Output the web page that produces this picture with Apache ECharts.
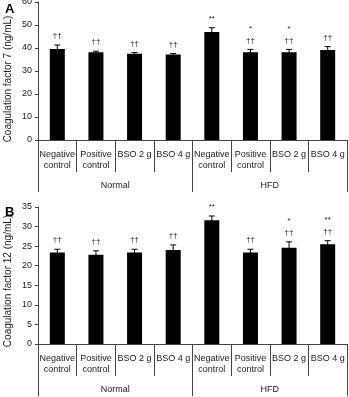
<!DOCTYPE html>
<html>
<head>
<meta charset="utf-8">
<script src="https://cdn.jsdelivr.net/npm/echarts@6/dist/echarts.min.js"></script>
<style>
  html, body { margin: 0; padding: 0; background: #fff; }
  #main { width: 349px; height: 397px; }
</style>
</head>
<body>
<div id="main"></div>
<script>
// categories
const categories = ['Negative\ncontrol', 'Positive\ncontrol', 'BSO 2 g', 'BSO 4 g',
                    'Negative\ncontrol', 'Positive\ncontrol', 'BSO 2 g', 'BSO 4 g'];
const groups = ['Normal', 'HFD'];

// panel A - coagulation factor 7
const factor7 = [39.6, 38.1, 37.5, 37.2, 47.0, 38.1, 38.1, 39.1];
const factor7Err = [1.7, 0.5, 0.5, 0.4, 1.8, 1.3, 1.3, 1.5];
const factor7Marks = ['††', '††', '††', '††', '**', '*\n††', '*\n††', '††'];

// panel B - coagulation factor 12
const factor12 = [23.4, 22.8, 23.4, 24.0, 31.6, 23.4, 24.6, 25.5];
const factor12Err = [0.8, 1.0, 0.8, 1.3, 1.1, 0.8, 1.5, 0.9];
const factor12Marks = ['††', '††', '††', '††', '**', '††', '*\n††', '**\n††'];

const font = 'Liberation Sans, Arial, sans-serif';
const lineColor = '#444';

const chart = echarts.init(document.getElementById('main'));

function errorData(vals, errs, marks) {
  return vals.map((v, i) => [i, v, errs[i], marks[i]]);
}

const errData = {
  1: errorData(factor7, factor7Err, factor7Marks),
  3: errorData(factor12, factor12Err, factor12Marks)
};

function renderErr(params, api) {
  const x = api.value(0);
  const v = api.value(1);
  const e = api.value(2);
  const top = api.coord([x, v + e]);
  const bot = api.coord([x, v - e]);
  const mark = errData[params.seriesIndex][params.dataIndex][3];
  return {
    type: 'group',
    children: [
      { type: 'line', shape: { x1: top[0], y1: top[1], x2: bot[0], y2: bot[1] },
        style: { stroke: '#000', lineWidth: 1 } },
      { type: 'line', shape: { x1: top[0] - 3, y1: top[1], x2: top[0] + 3, y2: top[1] },
        style: { stroke: '#000', lineWidth: 1 } },
      { type: 'text', x: top[0], y: top[1] - 3,
        style: { text: mark, textAlign: 'center', textVerticalAlign: 'bottom',
                 fontSize: 8, lineHeight: 12, fill: '#222', fontFamily: font } }
    ]
  };
}

function catAxis(gridIndex) {
  return {
    type: 'category', gridIndex, data: categories,
    axisLine: { show: true, lineStyle: { color: lineColor } },
    axisTick: { show: true, length: 32, interval: 0, lineStyle: { color: lineColor } },
    axisLabel: { interval: 0, margin: 9, fontSize: 9, lineHeight: 11,
                 color: '#222', fontFamily: font }
  };
}

function groupAxis(gridIndex) {
  return {
    type: 'category', gridIndex, data: groups, position: 'bottom',
    axisLine: { show: false },
    axisTick: { show: true, length: 52, interval: 0, lineStyle: { color: lineColor } },
    axisLabel: { margin: 41, fontSize: 9, color: '#222', fontFamily: font }
  };
}

function valAxis(gridIndex, max, interval) {
  return {
    type: 'value', gridIndex, min: 0, max, interval,
    axisLine: { show: true, lineStyle: { color: lineColor } },
    axisTick: { show: true, length: 3, lineStyle: { color: lineColor } },
    axisLabel: { fontSize: 9, margin: 6, color: '#222', fontFamily: font },
    splitLine: { show: false }
  };
}

// y axis titles (sit a little below the plot centre, as in the figure)
function yTitle(text, y) {
  return {
    type: 'text', x: 8.5, y, rotation: Math.PI / 2,
    style: { text, fontSize: 10, fill: '#222', fontFamily: font,
             textAlign: 'center', textVerticalAlign: 'middle' }
  };
}

chart.setOption({
  animation: false,
  textStyle: { fontFamily: font },
  title: [
    { text: 'A', left: 0, top: -2, textStyle: { fontSize: 13, fontWeight: 'bold', color: '#000' } },
    { text: 'B', left: 0, top: 201, textStyle: { fontSize: 13, fontWeight: 'bold', color: '#000' } }
  ],
  graphic: [
    yTitle('Coagulation factor 7 (ng/mL)', 79),
    yTitle('Coagulation factor 12 (ng/mL)', 281)
  ],
  grid: [
    { left: 38, right: 2, top: 2, height: 138, outerBoundsMode: 'none', containLabel: false },
    { left: 38, right: 2, top: 207, height: 137, outerBoundsMode: 'none', containLabel: false }
  ],
  xAxis: [catAxis(0), groupAxis(0), catAxis(1), groupAxis(1)],
  yAxis: [valAxis(0, 60, 10), valAxis(1, 35, 5)],
  series: [
    { type: 'bar', xAxisIndex: 0, yAxisIndex: 0, data: factor7, barWidth: 15,
      itemStyle: { color: '#000' } },
    { type: 'custom', xAxisIndex: 0, yAxisIndex: 0, data: errData[1], renderItem: renderErr, z: 3 },
    { type: 'bar', xAxisIndex: 2, yAxisIndex: 1, data: factor12, barWidth: 15,
      itemStyle: { color: '#000' } },
    { type: 'custom', xAxisIndex: 2, yAxisIndex: 1, data: errData[3], renderItem: renderErr, z: 3 }
  ]
});
</script>
</body>
</html>
